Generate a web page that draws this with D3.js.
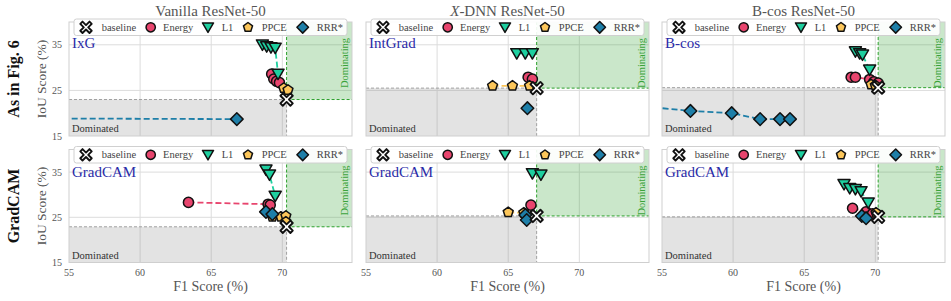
<!DOCTYPE html>
<html><head><meta charset="utf-8">
<script src="https://cdn.jsdelivr.net/npm/d3@7"></script>
<style>body{margin:0;background:#fff}svg{display:block}</style>
</head><body>
<script>
// ---------- data ----------
const columnTitles = ["Vanilla ResNet-50", "-DNN ResNet-50", "B-cos ResNet-50"];
const rowLabels = ["As in Fig. 6", "GradCAM"];
const methodLabels = [["IxG", "IntGrad", "B-cos"], ["GradCAM", "GradCAM", "GradCAM"]];
const xTicks = [55, 60, 65, 70];
const yTicks = [15, 25, 35];
const legendNames = ["baseline", "Energy", "L1", "PPCE", "RRR*"];
const baselineF1 = [70.3, 67.0, 70.2];
const baselineIoU = [[23.0, 25.5, 25.6], [22.9, 25.3, 25.1]];
// per row, per column: [F1, IoU]
const energyPts = [
  [[69.25, 28.6], [69.4, 27.5], [69.6, 27.0], [69.8, 26.7]],
  [[66.4, 27.9], [66.7, 27.5]],
  [[68.3, 27.9], [68.6, 27.9], [69.6, 27.4], [69.9, 26.9], [70.2, 26.6]]
];
const energyPts2 = [
  [[63.4, 28.3], [69.0, 27.9], [69.15, 27.7]],
  [[66.6, 27.7]],
  [[68.4, 27.0], [69.35, 26.2], [69.8, 25.8]]
];
const l1Pts = [
  [[68.6, 35.0], [68.9, 34.6], [69.2, 34.4], [69.5, 34.3], [69.7, 28.6]],
  [[65.6, 33.1], [66.2, 33.1], [66.7, 33.1]],
  [[68.6, 33.5], [68.9, 33.1], [69.1, 32.8], [69.6, 29.5]]
];
const l1Pts2 = [
  [[68.85, 35.5], [69.1, 34.4], [69.5, 29.7]],
  [[66.7, 34.7], [67.3, 34.4]],
  [[67.8, 32.3], [68.2, 31.4], [68.6, 31.2], [69.0, 30.7], [69.5, 28.2]]
];
const ppcePts = [
  [[70.1, 25.5], [70.4, 25.1]],
  [[63.9, 26.0], [65.3, 26.0], [66.5, 26.0]],
  [[69.7, 26.3], [70.0, 26.1]]
];
const ppcePts2 = [
  [[69.3, 25.1], [69.9, 25.1], [70.25, 25.3], [70.25, 24.0]],
  [[65.0, 26.1], [66.1, 26.0]],
  [[70.05, 26.0]]
];
const rrrPts = [
  [[40.0, 19.0], [66.8, 18.7]],
  [[66.35, 21.1]],
  [[50.0, 22.6], [57.0, 20.5], [59.9, 20.0], [61.9, 18.7], [63.3, 18.7], [64.0, 18.7]]
];
const rrrPts2 = [
  [[68.85, 26.2], [69.3, 25.7]],
  [[66.2, 25.5], [66.3, 24.4]],
  [[69.05, 25.3], [69.35, 24.8]]
];
const seriesColors = ["#ffffff", "#e8456e", "#1ecf9f", "#fcc65a", "#1e7fa8"];

// ---------- layout ----------
const W = 951, H = 301;
const colLeft = [69, 366, 662], plotW = 283;
const rowTop = [22, 149.5], plotH = [114, 113];
const serif = "'Liberation Serif', 'DejaVu Serif', serif";

const svg = d3.select("body").append("svg").attr("width", W).attr("height", H)
  .style("font-family", serif);
const defs = svg.append("defs");

function markerPath(kind, s) {
  s = s || 1;
  if (kind === 0) { // baseline X
    const a = 2.4 * s, e = 6.2 * s;
    const p = d3.path();
    const pts = [[0,-a],[e-a,-e],[e,-e+a],[a,0],[e,e-a],[e-a,e],[0,a],[-e+a,e],[-e,e-a],[-a,0],[-e,-e+a],[-e+a,-e]];
    pts.forEach((q,i)=> i? p.lineTo(q[0],q[1]) : p.moveTo(q[0],q[1]));
    p.closePath(); return p.toString();
  }
  if (kind === 1) return d3.symbol(d3.symbolCircle, 80 * s * s)();
  if (kind === 2) return `M${-6*s},${-4.8*s}L${6*s},${-4.8*s}L0,${5.6*s}Z`;
  if (kind === 3) {
    const r = 5.2 * s, p = d3.path();
    for (let k = 0; k < 5; k++) { const ang = (-90 + 72*k) * Math.PI/180;
      k ? p.lineTo(r*Math.cos(ang), r*Math.sin(ang)) : p.moveTo(r*Math.cos(ang), r*Math.sin(ang)); }
    p.closePath(); return p.toString();
  }
  return `M0,${-6.3*s}L${6.3*s},0L0,${6.3*s}L${-6.3*s},0Z`;
}
function drawMarker(g, kind, x, y, s) {
  g.append("path").attr("d", markerPath(kind, s)).attr("transform", `translate(${x},${y})`)
    .attr("fill", seriesColors[kind]).attr("stroke", "#111")
    .attr("stroke-width", kind === 0 ? 1.9 : 1.5).attr("stroke-linejoin", "round");
}

const allRows = [[energyPts, l1Pts, ppcePts, rrrPts], [energyPts2, l1Pts2, ppcePts2, rrrPts2]];

for (let r = 0; r < 2; r++) {
  for (let c = 0; c < 3; c++) {
    const x0 = colLeft[c], y0 = rowTop[r], h = plotH[r];
    const x = d3.scaleLinear().domain([55, 74.9]).range([x0, x0 + plotW]);
    const y = d3.scaleLinear().domain([15, 40]).range([y0 + h, y0]);
    const g = svg.append("g");
    const cid = `clip${r}${c}`;
    defs.append("clipPath").attr("id", cid).append("rect")
      .attr("x", x0).attr("y", y0).attr("width", plotW).attr("height", h);
    const bx = x(baselineF1[c]), by = y(baselineIoU[r][c]);

    // grid
    const grid = g.append("g").attr("stroke", "#dcdcdc").attr("stroke-width", 1);
    xTicks.filter(t => t > 55).forEach(t => grid.append("line").attr("x1", x(t)).attr("x2", x(t)).attr("y1", y0).attr("y2", y0 + h));
    yTicks.filter(t => t > 15).forEach(t => grid.append("line").attr("x1", x0).attr("x2", x0 + plotW).attr("y1", y(t)).attr("y2", y(t)));

    // regions
    g.append("rect").attr("x", x0).attr("y", by).attr("width", bx - x0).attr("height", y0 + h - by)
      .attr("fill", "rgba(140,140,140,0.24)");
    g.append("rect").attr("x", bx).attr("y", y0).attr("width", x0 + plotW - bx).attr("height", by - y0)
      .attr("fill", "rgba(44,160,44,0.25)");
    const dl = g.append("g").attr("stroke-width", 1).attr("stroke-dasharray", "3,2");
    dl.append("line").attr("x1", x0).attr("x2", bx).attr("y1", by).attr("y2", by).attr("stroke", "#a0a0a0");
    dl.append("line").attr("x1", bx).attr("x2", bx).attr("y1", by).attr("y2", y0 + h).attr("stroke", "#a0a0a0");
    dl.append("line").attr("x1", bx).attr("x2", x0 + plotW).attr("y1", by).attr("y2", by).attr("stroke", "#2ca02c");
    dl.append("line").attr("x1", bx).attr("x2", bx).attr("y1", y0).attr("y2", by).attr("stroke", "#2ca02c");

    // frame
    g.append("rect").attr("x", x0).attr("y", y0).attr("width", plotW).attr("height", h)
      .attr("fill", "none").attr("stroke", "#cfcfcf").attr("stroke-width", 1);

    g.append("text").attr("x", x0 + 3).attr("y", y0 + h - 4).attr("font-size", 10.5)
      .attr("fill", "#333").text("Dominated");
    g.append("text").attr("transform", `translate(${x0 + plotW - 4},${y0 + 41}) rotate(-90)`)
      .attr("text-anchor", "middle").attr("font-size", 10.5).attr("fill", "#3aa33a").text("Dominating");

    // method label
    g.append("text").attr("x", x0 + 3).attr("y", y0 + (r ? 27.5 : 26)).attr("font-size", 15)
      .attr("fill", "#2b2ba8").text(methodLabels[r][c]);

    // series
    const plotG = g.append("g").attr("clip-path", `url(#${cid})`);
    const line = d3.line().x(d => x(d[0])).y(d => y(d[1]));
    allRows[r].forEach((s, i) => {
      const pts = s[c];
      if (pts.length > 1)
        plotG.append("path").attr("d", line(pts)).attr("fill", "none")
          .attr("stroke", seriesColors[i + 1]).attr("stroke-width", 1.8).attr("stroke-dasharray", "6,3");
    });
    allRows[r].forEach((s, i) => s[c].forEach(p => drawMarker(plotG, i + 1, x(p[0]), y(p[1]))));
    drawMarker(plotG, 0, bx, by);

    // legend
    const ly = y0 - 3;
    const lg = g.append("g");
    lg.append("rect").attr("x", x0 + 5).attr("y", ly).attr("width", 273).attr("height", 16.5).attr("rx", 2.5)
      .attr("fill", "rgba(255,255,255,0.92)").attr("stroke", "#d0d0d0").attr("stroke-width", 1);
    const mOff = [17, 81.7, 139, 179, 233.7], tOff = [32.7, 94, 152.7, 192.7, 247.7];
    legendNames.forEach((n, i) => {
      drawMarker(lg, i, x0 + mOff[i], ly + 8.3, 0.92);
      lg.append("text").attr("x", x0 + tOff[i]).attr("y", ly + 11.8).attr("font-size", 10.5)
        .attr("fill", "#444").text(n);
    });

    // axes ticks
    if (c === 0) {
      yTicks.forEach(t => svg.append("text").attr("x", x0 - 7).attr("y", y(t) + 3.5).attr("text-anchor", "end")
        .attr("font-size", 10).attr("fill", "#555").text(t));
      svg.append("text").attr("transform", `translate(${46},${y0 + h / 2}) rotate(-90)`).attr("text-anchor", "middle")
        .attr("font-size", 13.5).attr("fill", "#555").text("IoU Score (%)");
      svg.append("text").attr("transform", `translate(${19},${y0 + h / 2}) rotate(-90)`).attr("text-anchor", "middle")
        .attr("font-size", 16).attr("font-weight", "bold").attr("fill", "#111").text(rowLabels[r]);
    }
    if (r === 1) {
      xTicks.forEach(t => svg.append("text").attr("x", x(t)).attr("y", y0 + h + 13).attr("text-anchor", "middle")
        .attr("font-size", 10).attr("fill", "#555").text(t));
      svg.append("text").attr("x", x0 + plotW / 2).attr("y", 291).attr("text-anchor", "middle")
        .attr("font-size", 14).attr("fill", "#555").text("F1 Score (%)");
    }
    if (r === 0) {
      const t = svg.append("text").attr("x", x0 + plotW / 2).attr("y", 16).attr("text-anchor", "middle")
        .attr("font-size", 15).attr("fill", "#555");
      if (c === 1) t.append("tspan").attr("font-style", "italic").text("X");
      t.append("tspan").text(columnTitles[c]);
    }
  }
}
</script>
</body></html>
